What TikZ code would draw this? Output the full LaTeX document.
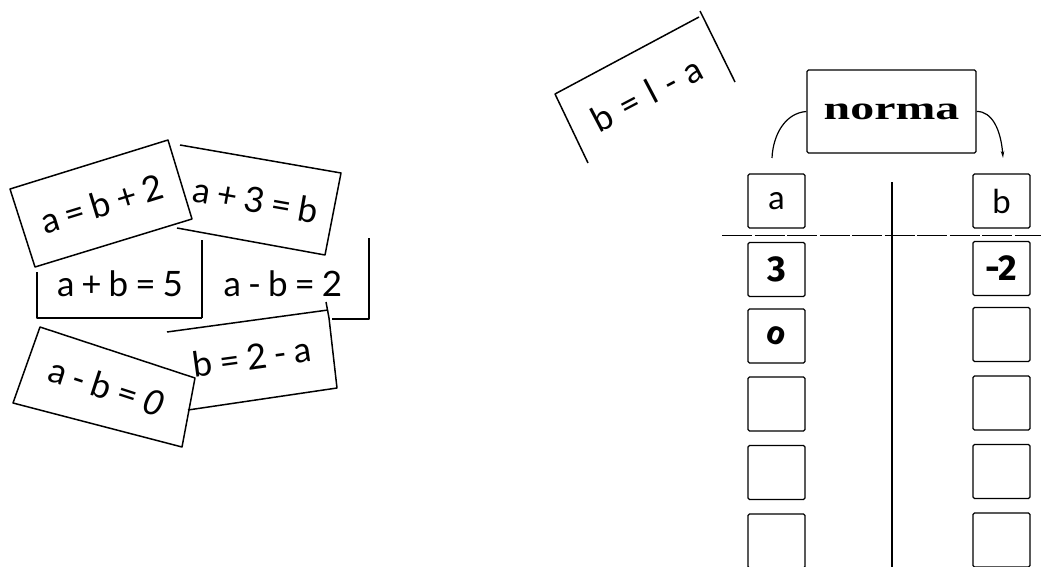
\documentclass[tikz,border=0pt]{standalone}
\usepackage{fontspec}
\setmainfont{Lato}
\newfontfamily\normafont{Liberation Serif}
\newfontfamily\handfont{Fira Sans}
\usetikzlibrary{arrows.meta}
\newcommand{\gp}{\hspace{0.2em}}
\tikzset{
  card/.style={line width=1.5pt, line join=round},
  eq/.style={inner sep=0pt, font=\fontsize{35}{38}\selectfont},
  cell/.style={draw, line width=1.2pt, rounded corners=1.5pt, minimum width=57pt, minimum height=54pt, inner sep=0pt, font=\fontsize{33}{36}\selectfont},
  hand/.style={font=\handfont\bfseries\fontsize{36}{38}\selectfont},
  rule/.style={line width=1.2pt},
}
\begin{document}
\begin{tikzpicture}[x=1pt,y=-1pt]
\useasboundingbox (0,0) rectangle (1041,567);
% ---- left cards
% a = b + 2
\draw[card] (10,189) -- (168,140) -- (192,219) -- (35,267) -- cycle;
\node[eq, rotate=17] (e1) at (102,204) {a\gp=\gp b\gp+\gp2};
% a + 3 = b
\draw[card] (180,145) -- (341,173) -- (325,255) -- (177,228);
\node[eq, rotate=-10] (e2) at (256,200) {a\gp+\gp3\gp=\gp b};
% a + b = 5
\draw[card] (37,272) -- (37,318) -- (202,318);
\draw[card] (202,240) -- (202,318);
\node[eq] (e3) at (120,284) {a\gp+\gp b\gp=\gp5};
% a - b = 2
\draw[card] (332,319) -- (369,319) -- (369,238);
\node[eq] (e4) at (283,284) {a\gp-\gp b\gp=\gp2};
% b = 2 - a
\draw[card] (167,332) -- (328,310);
\draw[card] (326,302) -- (329,318) -- (337,388) -- (188,410);
\node[eq, rotate=7.8] (e5) at (252,357) {b\gp=\gp2\gp-\gp a};
% a - b = 0
\draw[card] (40,327) -- (195,378) -- (182,447) -- (13,403) -- cycle;
\node[eq, rotate=-18] (e6) at (107,387) {a\gp-\gp b\gp=\gp\textit{0}};
% ---- b = 1 - a
\draw[card] (588,163) -- (555,94) -- (699,17);
\draw[card] (700,11) -- (703,17) -- (735,82);
\node[eq, rotate=27.8] (e7) at (647,94) {b\hspace{0.3em}=\hspace{0.3em}l\hspace{0.3em}-\hspace{0.3em}a};
% ---- table
\node[draw, line width=1.2pt, rounded corners=1.5pt, minimum width=169pt, minimum height=83pt, inner sep=0pt] (norma) at (891.5,111.5) {\normafont\bfseries\fontsize{33}{35}\selectfont\scalebox{1.45}[1]{norma}};
\coordinate (la) at (772,158);
\coordinate (lb) at (1003,158);
\draw[rule] (norma.west) .. controls (785,113) and (773,135) .. (la);
\draw[rule, -{Stealth[length=7pt,width=3.5pt]}] (norma.east) .. controls (992,111) and (1001,130) .. (lb);
\coordinate (vt) at (892,182);
\coordinate (vb) at (892,567);
\draw[rule] (vt) -- (vb);
\coordinate (hl) at (722,235);
\coordinate (hr) at (1041,235);
\draw[line width=1pt, dash pattern=on 30pt off 2.5pt] (hl) -- (hr);
\node[cell] (a0) at (776.5,201) {a};
\node[cell] (b0) at (1001.5,201) {b};
\node[cell, hand] (a1) at (776.5,269.5) {3};
\node[cell, hand] (b1) at (1001.5,268.5) {-2};
\node[cell, hand] (a2) at (776.5,336) {\rotatebox{-20}{\fontsize{32}{34}\selectfont o}};
\node[cell] (b2) at (1001.5,334.5) {};
\node[cell] (a3) at (776.5,404) {};
\node[cell] (b3) at (1001.5,403) {};
\node[cell] (a4) at (776.5,472.5) {};
\node[cell] (b4) at (1001.5,471.5) {};
\node[cell] (a5) at (776.5,541) {};
\node[cell] (b5) at (1001.5,540) {};
\end{tikzpicture}
\end{document}
